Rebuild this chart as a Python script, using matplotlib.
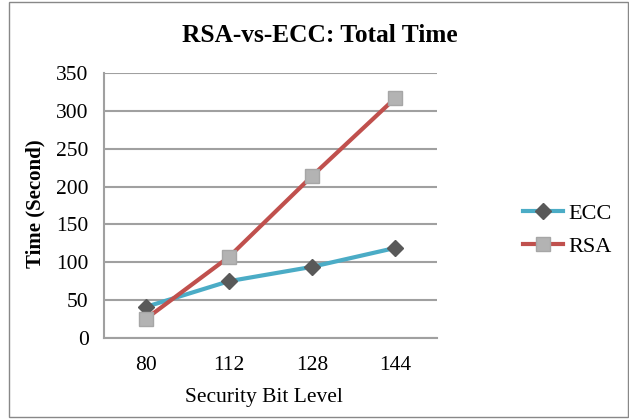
import matplotlib.pyplot as plt
from matplotlib.patches import Rectangle

# chart data
levels = ['80', '112', '128', '144']
ecc = [41, 75, 94, 119]
rsa = [25, 107, 214, 317]
yticks = [0, 50, 100, 150, 200, 250, 300, 350]

plt.rcParams['font.family'] = ['Liberation Serif', 'DejaVu Serif']

fig = plt.figure(figsize=(6.29, 4.19), dpi=100)
ax = fig.add_axes([104 / 629, 81 / 419, 333 / 629, 265 / 419])

x = range(len(levels))
ax.plot(x, ecc, color='#4BACC6', lw=3, marker='D', ms=8,
        mfc='#595959', mec='#595959', label='ECC', zorder=3)
ax.plot(x, rsa, color='#C0504D', lw=3, marker='s', ms=10,
        mfc='#B3B3B3', mec='#A6A6A6', label='RSA', zorder=3)

ax.set_xlim(-0.5, len(levels) - 0.5)
ax.set_ylim(0, 350)
ax.set_yticks(yticks)
ax.set_xticks(list(x))
ax.set_xticklabels(levels)
ax.tick_params(length=0, labelsize=15.5)
ax.tick_params(axis='y', pad=11)
ax.tick_params(axis='x', pad=13)
ax.grid(axis='y', color='#A0A0A0', lw=1.5)
ax.set_axisbelow(True)
for s in ['top', 'right']:
    ax.spines[s].set_visible(False)
ax.spines['left'].set_color('#A0A0A0')
ax.spines['left'].set_linewidth(1.5)
ax.spines['bottom'].set_color('#A0A0A0')
ax.spines['bottom'].set_linewidth(1.5)

fig.text(320 / 629, 1 - 35 / 419, 'RSA-vs-ECC: Total Time', ha='center', va='center',
         fontsize=18.3, fontweight='bold')
fig.text(35 / 629, 1 - 204 / 419, 'Time (Second)', ha='center', va='center',
         rotation=90, fontsize=15, fontweight='bold')
fig.text(264 / 629, 1 - 397 / 419, 'Security Bit Level', ha='center', va='center',
         fontsize=15.5)

fig.legend(loc='center left', bbox_to_anchor=(523 / 629, 1 - 230 / 419),
           frameon=False, fontsize=16, handlelength=1.8, handletextpad=0.22,
           labelspacing=0.55, borderaxespad=0, borderpad=0)

fig.patches.append(Rectangle((9 / 629, 2 / 419), 619 / 629, 415 / 419,
                             transform=fig.transFigure, fill=False,
                             ec='#888888', lw=1))

fig.savefig('out.png')
